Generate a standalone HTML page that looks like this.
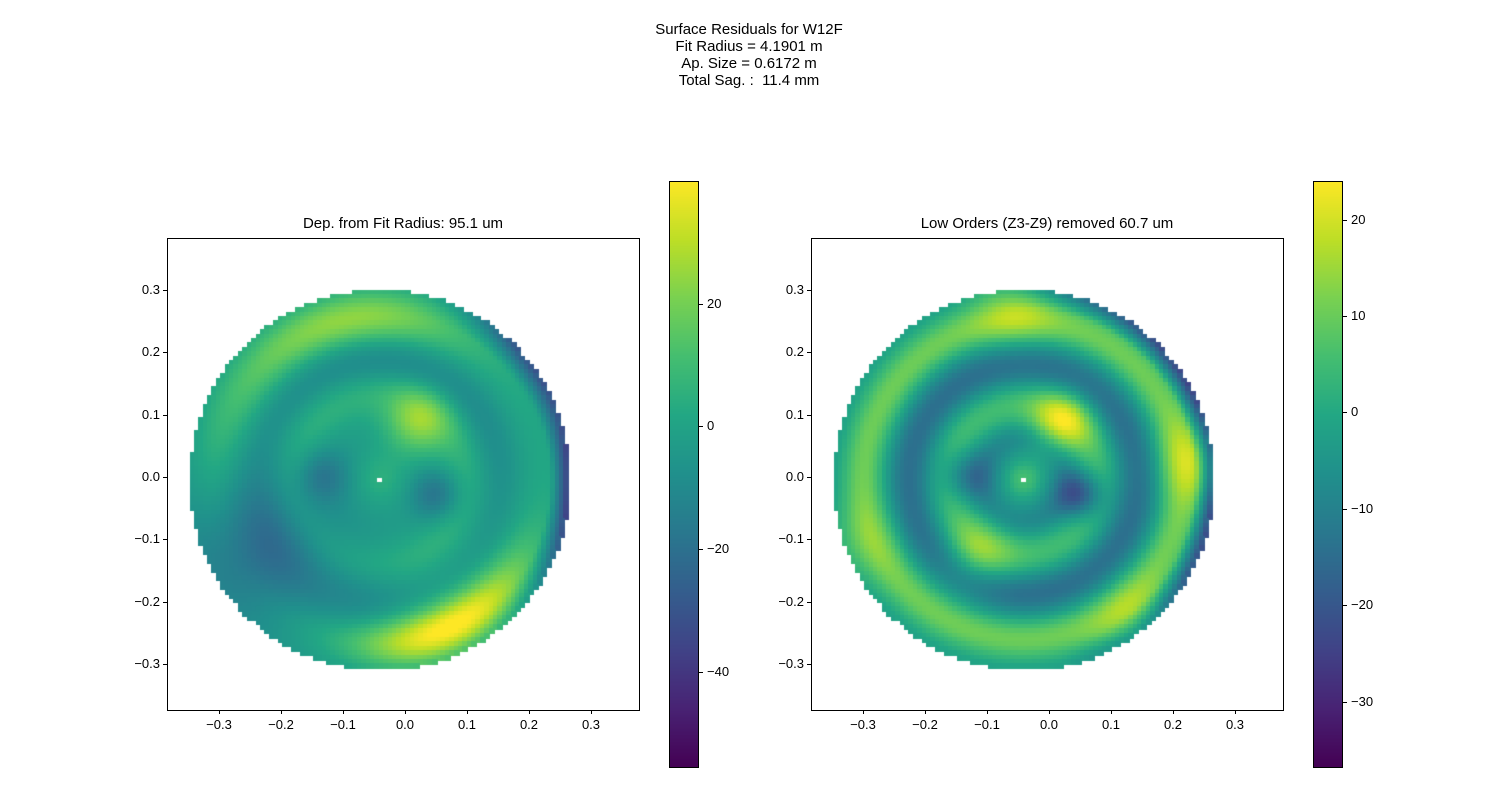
<!DOCTYPE html>
<html><head><meta charset="utf-8"><style>
body{margin:0;background:#fff;width:1498px;height:798px;position:relative;overflow:hidden;font-family:"Liberation Sans","DejaVu Sans",sans-serif;color:#000}
.t{position:absolute;font-size:15px;white-space:nowrap}
.tk{position:absolute;font-size:13px;white-space:nowrap}
canvas{position:absolute}
.ax{position:absolute;border:1px solid #000;box-sizing:border-box}
</style></head><body>
<div class="t" style="left:0;width:1498px;text-align:center;top:21px;line-height:17px">Surface Residuals for W12F<br>Fit Radius = 4.1901 m<br>Ap. Size = 0.6172 m<br>Total Sag. :&nbsp; 11.4 mm</div>
<div class="t" style="left:167px;width:472px;text-align:center;top:215px">Dep. from Fit Radius: 95.1 um</div>
<div class="t" style="left:811px;width:472px;text-align:center;top:215px">Low Orders (Z3-Z9) removed 60.7 um</div>
<canvas id="c1" width="472" height="472" style="left:167px;top:238px"></canvas>
<canvas id="c2" width="472" height="472" style="left:811px;top:238px"></canvas>
<div class="ax" style="left:167px;top:238px;width:473px;height:473px"></div>
<div class="ax" style="left:811px;top:238px;width:473px;height:473px"></div>
<canvas id="cb1" width="29" height="586" style="left:669px;top:181px"></canvas>
<canvas id="cb2" width="29" height="586" style="left:1313px;top:181px"></canvas>
<div class="ax" style="left:669px;top:181px;width:30px;height:587px"></div>
<div class="ax" style="left:1313px;top:181px;width:30px;height:587px"></div>
<div id="ticks"></div>
<script>
var V=[[0,68,1,84],[.1,72,35,116],[.2,64,67,135],[.3,52,94,141],[.4,41,120,142],[.5,32,144,140],[.6,34,167,132],[.7,68,190,112],[.8,121,209,81],[.9,189,222,38],[1,253,231,37]];
function vir(t){t=Math.max(0,Math.min(1,t));for(var i=1;i<V.length;i++){if(t<=V[i][0]){var a=V[i-1],b=V[i],f=(t-a[0])/(b[0]-a[0]);return 'rgb('+[1,2,3].map(function(k){return Math.round(a[k]+(b[k]-a[k])*f)}).join(',')+')';}}}
function g(x,y,cx,cy,s){return Math.exp(-((x-cx)*(x-cx)+(y-cy)*(y-cy))/(s*s));}
function ring(r,r0,s){return Math.exp(-(r-r0)*(r-r0)/(s*s));}
function ang(th,t0,s){var d=Math.atan2(Math.sin(th-t0),Math.cos(th-t0));return Math.exp(-d*d/(s*s));}
function f1(u,v){var r=Math.hypot(u,v),th=Math.atan2(v,u),val=-3;
var R=ring(r,0.86,0.14);
val+=R*(4+14*ang(th,2.1,0.9)+12*ang(th,1.6,0.6)+30*ang(th,-1.3,0.55)+18*ang(th,-0.9,0.5));
val+=-20*g(u,v,-0.62,-0.38,0.38);
val+=-8*g(u,v,-0.1,-0.72,0.3);
val+=-9*ring(r,0.62,0.12)*(0.5+0.5*Math.cos(th-1.3));
val+=-40*Math.max(0,r-0.9)*10*Math.max(0,Math.cos(th+0.2))*ang(th,0,0.6);
val+=-25*Math.max(0,r-0.88)*8*ang(th,0.75,0.35);
val+=ring(r,0.45,0.13)*9;
val+=24*g(u,v,0.2,0.3,0.17);
val+=-14*g(u,v,-0.3,0.02,0.14)-17*g(u,v,0.3,-0.08,0.13);
val+=8*g(u,v,0,0,0.14);
return (val+55.6)/(40+55.6);}
function f2(u,v){var r=Math.hypot(u,v),th=Math.atan2(v,u),val=-4;
val+=ring(r,0.84,0.12)*15;
val+=-11*ring(r,0.6,0.12);
val+=10*g(u,v,-0.05,0.93,0.22)+12*g(u,v,0.93,0.1,0.22)+9*g(u,v,0.6,-0.75,0.22)+6*g(u,v,-0.9,-0.35,0.22);
val+=-30*Math.max(0,r-0.9)*8*Math.max(0,Math.cos(th-0.2));
val+=ring(r,0.4,0.12)*10;
val+=20*g(u,v,0.2,0.3,0.16)+12*g(u,v,-0.25,-0.4,0.18);
val+=-12*g(u,v,-0.3,0.02,0.13)-20*g(u,v,0.3,-0.08,0.12);
val+=-5*ring(r,0.22,0.08);
val+=10*g(u,v,0,0,0.1);
return (val+36.5)/(24.3+36.5);}
function draw(id,f){var c=document.getElementById(id).getContext('2d');var cx=213,cy=242,R=190,s=4.4;
for(var y=cy-R-s;y<cy+R+s;y+=s)for(var x=cx-R-s;x<cx+R+s;x+=s){var mx=x+s/2,my=y+s/2,u=(mx-cx)/R,v=-(my-cy)/R;if(u*u+v*v>1)continue;c.fillStyle=vir(f(u,v));c.fillRect(Math.floor(x),Math.floor(y),Math.ceil(s)+1,Math.ceil(s)+1);}
c.fillStyle='#fff';c.fillRect(cx-3,cy-2,5,4);}
draw('c1',f1);draw('c2',f2);
['cb1','cb2'].forEach(function(id){var c=document.getElementById(id).getContext('2d');for(var y=0;y<586;y++){c.fillStyle=vir(1-y/585);c.fillRect(0,y,29,1);}});
var h='';
function tk(x,y,txt,al){h+='<div class="tk" style="left:'+(al=='r'?x-60:x-30)+'px;width:60px;text-align:'+(al=='r'?'right':'center')+';top:'+(y-8)+'px">'+txt+'</div>';}
function ln(x,y,w,hh){h+='<div style="position:absolute;background:#000;left:'+x+'px;top:'+y+'px;width:'+w+'px;height:'+hh+'px"></div>';}
var lab=['\u22120.3','\u22120.2','\u22120.1','0.0','0.1','0.2','0.3'];
[[167,0],[811,644]].forEach(function(a){var x0=a[0],off=a[1];
for(var i=0;i<7;i++){var px=219+off+i*62;ln(px,710,1,4);tk(px,725,lab[i],'c');
var py=290+i*62.3;ln(x0-4,Math.round(py),4,1);tk(x0-7,py,lab[6-i],'r');}});
[[20,304],[0,426],[-20,549],[-40,672]].forEach(function(t){ln(699,t[1],4,1);h+='<div class="tk" style="left:707px;top:'+(t[1]-8)+'px">'+String(t[0]).replace('-','\u2212')+'</div>';});
[[20,220],[10,316],[0,412],[-10,509],[-20,605],[-30,702]].forEach(function(t){ln(1343,t[1],4,1);h+='<div class="tk" style="left:1351px;top:'+(t[1]-8)+'px">'+String(t[0]).replace('-','\u2212')+'</div>';});
document.getElementById('ticks').innerHTML=h;
</script>
</body></html>
